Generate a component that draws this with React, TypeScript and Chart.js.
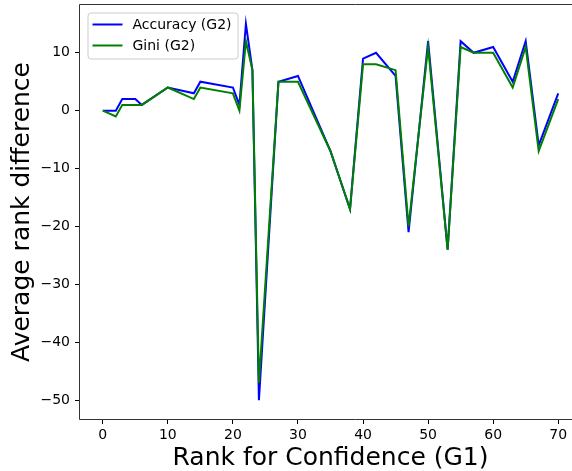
import React, { useEffect, useRef } from "react";
import { Chart, registerables } from "chart.js";

Chart.register(...registerables);

// ---- data ----
const rankG1 = [0, 2, 3, 5, 6, 10, 14, 15, 20, 21, 22, 23, 24, 27, 30, 35, 38, 40, 42, 45, 47, 50, 53, 55, 57, 60, 63, 65, 67, 70];
const accuracyG2 = [0, 0, 2, 2, 1, 4, 3, 5, 4, 1, 15, 7, -50, 5, 6, -7, -17, 9, 10, 6, -21, 12, -24, 12, 10, 11, 5, 12, -6, 3];
const giniG2 = [0, -1, 1, 1, 1, 4, 2, 4, 3, 0, 12, 7, -47, 5, 5, -7, -17, 8, 8, 7, -20, 11, -24, 11, 10, 10, 4, 11, -7, 2];
const xTicks = [0, 10, 20, 30, 40, 50, 60, 70];
const yTicks = [-50, -40, -30, -20, -10, 0, 10];
const seriesLabels = ["Accuracy (G2)", "Gini (G2)"];
const seriesColors = ["#0000ff", "#008000"];
const xTitle = "Rank for Confidence (G1)";
const yTitle = "Average rank difference";

const FONT = "'DejaVu Sans', sans-serif";
const fmt = (v: number) => (v < 0 ? "\u2212" + Math.abs(v) : String(v));

const framePlugin = {
  id: "frameAndLegend",
  afterDraw(chart: any) {
    const { ctx, chartArea } = chart;
    const { left, top, right, bottom } = chartArea;
    ctx.save();
    const l = Math.round(left) - 0.5;
    const t = Math.round(top) - 0.5;
    const b = Math.round(bottom) + 0.5;
    const r2 = Math.round(right) + 0.5;
    // clear the strip to the right of the last data point (nothing belongs there)
    const xLast = chart.scales.x.getPixelForValue(rankG1[rankG1.length - 1]);
    ctx.fillStyle = "#ffffff";
    ctx.fillRect(xLast + 6, t + 1.5, r2 - xLast + 50, b - t - 3);
    // spines (the right one lies beyond the visible window)
    ctx.strokeStyle = "#333333";
    ctx.lineWidth = 1;
    ctx.beginPath();
    ctx.moveTo(r2 + 50, t);
    ctx.lineTo(l, t);
    ctx.lineTo(l, b);
    ctx.lineTo(r2 + 50, b);
    ctx.stroke();

    // legend
    const bx = left + 8;
    const by = top + 8;
    const bw = 150;
    const bh = 46;
    const r = 3;
    ctx.beginPath();
    ctx.moveTo(bx + r, by);
    ctx.lineTo(bx + bw - r, by);
    ctx.arcTo(bx + bw, by, bx + bw, by + r, r);
    ctx.lineTo(bx + bw, by + bh - r);
    ctx.arcTo(bx + bw, by + bh, bx + bw - r, by + bh, r);
    ctx.lineTo(bx + r, by + bh);
    ctx.arcTo(bx, by + bh, bx, by + bh - r, r);
    ctx.lineTo(bx, by + r);
    ctx.arcTo(bx, by, bx + r, by, r);
    ctx.closePath();
    ctx.fillStyle = "rgba(255,255,255,0.8)";
    ctx.fill();
    ctx.strokeStyle = "#cccccc";
    ctx.lineWidth = 1;
    ctx.stroke();

    ctx.font = `14px ${FONT}`;
    ctx.textBaseline = "middle";
    ctx.textAlign = "left";
    seriesLabels.forEach((lab, i) => {
      const y = by + 11.5 + i * 21;
      ctx.strokeStyle = seriesColors[i];
      ctx.lineWidth = 2;
      ctx.beginPath();
      ctx.moveTo(bx + 4.5, y);
      ctx.lineTo(bx + 34.5, y);
      ctx.stroke();
      ctx.fillStyle = "#000000";
      ctx.fillText(lab, bx + 44.5, y + 1);
    });
    ctx.restore();
  },
};

export default function App() {
  const ref = useRef<HTMLCanvasElement | null>(null);

  useEffect(() => {
    if (!ref.current) return;
    const chart = new Chart(ref.current, {
      type: "line",
      data: {
        datasets: [
          {
            label: seriesLabels[0],
            data: rankG1.map((x, i) => ({ x, y: accuracyG2[i] })),
            borderColor: seriesColors[0],
            backgroundColor: seriesColors[0],
            borderWidth: 2,
            pointRadius: 0,
            tension: 0,
            order: 2,
          },
          {
            label: seriesLabels[1],
            data: rankG1.map((x, i) => ({ x, y: giniG2[i] })),
            borderColor: seriesColors[1],
            backgroundColor: seriesColors[1],
            borderWidth: 2,
            pointRadius: 0,
            tension: 0,
            order: 1,
          },
        ],
      },
      options: {
        animation: false,
        responsive: false,
        maintainAspectRatio: false,
        devicePixelRatio: 1,
        layout: { padding: { left: 0, top: 5, right: 119, bottom: 0 } },
        plugins: {
          legend: { display: false },
          tooltip: { enabled: false },
        },
        scales: {
          x: {
            type: "linear",
            min: -3.5,
            max: 73.5,
            afterBuildTicks: (s: any) => {
              s.ticks = xTicks.map((v) => ({ value: v }));
            },
            afterFit: (s: any) => {
              s.height = 52;
              s.paddingLeft = 0;
              s.paddingRight = 0;
            },
            ticks: {
              callback: (v: any) => fmt(Number(v)),
              color: "#000",
              font: { family: FONT, size: 14 },
              padding: 3,
              maxRotation: 0,
              autoSkip: false,
            },
            grid: {
              drawOnChartArea: false,
              drawTicks: true,
              tickLength: 5,
              color: "#000",
            },
            border: { display: false },
            title: {
              display: true,
              text: xTitle,
              color: "#000",
              font: { family: FONT, size: 25, lineHeight: 1 },
              padding: { top: 0, bottom: 0 },
            },
          },
          y: {
            type: "linear",
            min: -53.25,
            max: 18.25,
            afterBuildTicks: (s: any) => {
              s.ticks = yTicks.map((v) => ({ value: v }));
            },
            afterFit: (s: any) => {
              s.width = 80;
              s.paddingTop = 0;
              s.paddingBottom = 0;
            },
            ticks: {
              callback: (v: any) => fmt(Number(v)),
              color: "#000",
              font: { family: FONT, size: 14 },
              padding: 5,
              autoSkip: false,
            },
            grid: {
              drawOnChartArea: false,
              drawTicks: true,
              tickLength: 5,
              color: "#000",
            },
            border: { display: false },
            title: {
              display: true,
              text: yTitle,
              color: "#000",
              font: { family: FONT, size: 25 },
              padding: { top: 7, bottom: 0 },
            },
          },
        },
      },
      plugins: [framePlugin],
    });
    return () => chart.destroy();
  }, []);

  return (
    <div
      style={{
        position: "fixed",
        left: 0,
        top: 0,
        width: 572,
        height: 471,
        overflow: "hidden",
        background: "#fff",
      }}
    >
      <canvas ref={ref} width={700} height={471} style={{ display: "block", width: 700, height: 471 }} />
    </div>
  );
}
